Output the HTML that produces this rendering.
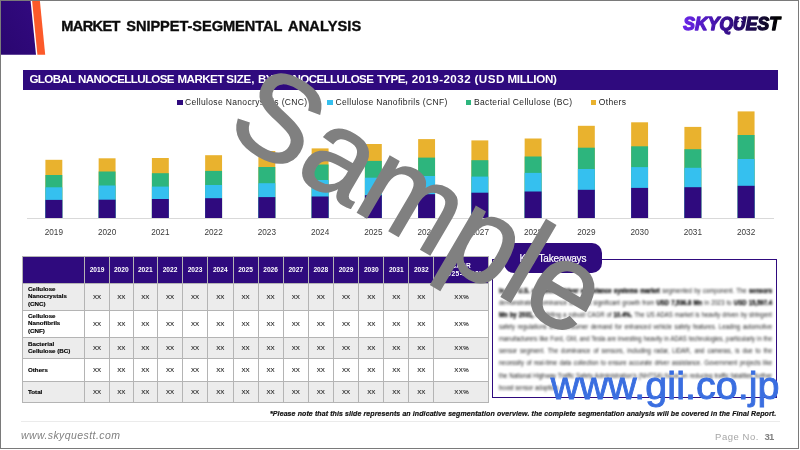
<!DOCTYPE html>
<html><head><meta charset="utf-8"><title>Market Snippet - Segmental Analysis</title>
<style>
html,body{margin:0;padding:0;background:#fff;}
body{width:800px;height:450px;position:relative;overflow:hidden;font-family:"Liberation Sans",sans-serif;}
#frame{position:absolute;left:0;top:0;width:797px;height:447px;border:1px solid #7a7a7a;box-sizing:content-box;}
.abs{position:absolute;}
#title{position:absolute;left:0;top:15.7px;-webkit-text-stroke:0.35px #0c0c0c;font-weight:bold;font-size:14.6px;line-height:20px;color:#0c0c0c;white-space:nowrap;}
#bar{position:absolute;left:22.5px;top:69.7px;width:755px;height:20.3px;background:#2f0a7e;}
.bw{position:absolute;top:0;}
#bartxt{position:absolute;left:0;top:68.9px;font-weight:bold;font-size:11.6px;line-height:20px;color:#fff;white-space:nowrap;}
.lg{position:absolute;top:97px;letter-spacing:0.34px;font-size:8.5px;line-height:11px;color:#1e1e1e;white-space:nowrap;}
.lm{position:absolute;top:100px;width:5.2px;height:5.2px;}
.yl{position:absolute;top:226.5px;width:40px;text-align:center;font-size:8.2px;line-height:11px;color:#3a3a3a;}
#axis{position:absolute;left:26.5px;top:218px;width:747px;height:1px;background:#d9d9d9;}
.th{position:absolute;top:256px;height:27px;line-height:28.6px;text-align:center;color:#fff;font-weight:bold;font-size:6.6px;}
.tr{position:absolute;left:22.5px;width:466px;}
.td{position:absolute;top:-0.2px;text-align:center;font-size:6.1px;color:#222;-webkit-text-stroke:0.12px #222;}
.cg{letter-spacing:0.5px;padding-left:1.3px;box-sizing:border-box;}
.rl{position:absolute;left:5.5px;top:-0.6px;height:100%;display:flex;align-items:center;font-weight:bold;font-size:6.2px;line-height:7.2px;color:#000;-webkit-text-stroke:0.15px #000;}
.vl{position:absolute;top:255.5px;width:1px;height:147.5px;background:#b4b4b4;}
.hl{position:absolute;left:22px;width:467px;height:1px;background:#b4b4b4;}
#ktbox{position:absolute;left:491.8px;top:258.5px;width:285.6px;height:139.2px;border:1.8px solid #2f0a7e;box-sizing:border-box;}
#ktpill{position:absolute;left:504px;top:243px;width:98px;height:29.5px;border-radius:10px;background:#2f0a7e;}
#kttxt{position:absolute;left:519.5px;top:244.5px;height:29.5px;line-height:28px;-webkit-text-stroke:0.2px #fff;color:#fff;font-size:10px;letter-spacing:-0.2px;white-space:nowrap;}
#ktp{position:absolute;left:499px;top:285.1px;width:345.6px;transform:scaleX(0.79);transform-origin:0 0;font-size:7.6px;line-height:12.07px;color:#1c1c1c;text-align:justify;filter:blur(1.25px);}
#foot{position:absolute;left:270px;top:408.6px;-webkit-text-stroke:0.2px #111;font-weight:bold;font-style:italic;font-size:7px;letter-spacing:0.1px;line-height:10px;color:#111;white-space:nowrap;}
#fline{position:absolute;left:20.5px;top:421px;width:759px;height:1px;background:#ebebeb;}
#url{position:absolute;left:21px;top:428px;font-style:italic;font-size:10.5px;line-height:14px;color:#808080;white-space:nowrap;letter-spacing:0.42px;}
#pg{position:absolute;left:715px;top:430.1px;font-size:9.5px;line-height:14px;color:#a6a6a6;white-space:nowrap;letter-spacing:0.55px;}
#pg b{color:#7f7f7f;position:absolute;left:49.5px;top:0;letter-spacing:-0.8px;}
#wm{position:absolute;left:420.7px;top:200.3px;width:0;height:0;}
#wm span{position:absolute;left:-300px;top:-100px;width:600px;height:200px;line-height:200px;text-align:center;font-size:120.1px;color:#808080;-webkit-text-stroke:1.6px #808080;transform:rotate(30.3deg) scaleY(1.02);white-space:nowrap;}
#gii{position:absolute;left:550.8px;top:362.4px;font-size:39.6px;line-height:46px;color:#3a6ee0;white-space:nowrap;-webkit-text-stroke:0.9px #3a6ee0;}
#ktp b{-webkit-text-stroke:0.25px #000;color:#000;}
</style></head><body>
<div id="frame"></div>
<svg class="abs" style="left:0;top:0" width="60" height="60" viewBox="0 0 60 60">
<defs><linearGradient id="pg1" x1="0" y1="1" x2="1" y2="0"><stop offset="0" stop-color="#2a0670"/><stop offset="1" stop-color="#320a80"/></linearGradient></defs>
<polygon points="1,1 30.6,1 36,54.8 1,54.8" fill="url(#pg1)"/>
<polygon points="32.1,1 39.9,1 45.2,54.8 37.4,54.8" fill="#fc5a2a"/>
</svg>
<div id="title"><span class="bw" style="left:61.25px;letter-spacing:-0.637px">MARKET</span> <span class="bw" style="left:126.25px;letter-spacing:-0.050px">SNIPPET-SEGMENTAL</span> <span class="bw" style="left:288.00px;letter-spacing:0.114px">ANALYSIS</span></div>
<svg class="abs" style="left:670px;top:6px" width="125" height="36" viewBox="0 0 125 36">
<defs><linearGradient id="lgd" gradientUnits="userSpaceOnUse" x1="12" y1="0" x2="112" y2="0"><stop offset="0" stop-color="#6a25ea"/><stop offset="0.3" stop-color="#4a16b4"/><stop offset="0.55" stop-color="#2a0a72"/><stop offset="0.8" stop-color="#140a35"/><stop offset="0.95" stop-color="#000"/></linearGradient></defs>
<text x="13.3" y="24.25" letter-spacing="0.05" font-family="Liberation Sans, sans-serif" font-size="17.5" font-weight="bold" font-style="italic" fill="url(#lgd)" stroke="url(#lgd)" stroke-width="1.35" stroke-linejoin="round">SKYQUEST</text>
<polygon points="67.6,11.3 74.4,11.3 73.4,16.2 66.6,16.2" fill="#2a0a70"/>
<polygon points="70.4,11.5 73,14.7 71.2,14.7 70.4,19 68.2,19 69,14.7 67.2,14.7" fill="#fff"/>
</svg>
<div id="bar"></div>
<div id="bartxt"><span class="bw" style="left:29.40px;letter-spacing:-0.571px">GLOBAL</span> <span class="bw" style="left:78.10px;letter-spacing:-0.662px">NANOCELLULOSE</span> <span class="bw" style="left:177.50px;letter-spacing:-0.539px">MARKET</span> <span class="bw" style="left:226.20px;letter-spacing:-0.200px">SIZE,</span> <span class="bw" style="left:258.10px;letter-spacing:-0.809px">BY</span> <span class="bw" style="left:277.00px;letter-spacing:-0.620px">NANOCELLULOSE</span> <span class="bw" style="left:376.90px;letter-spacing:-0.604px">TYPE,</span> <span class="bw" style="left:411.70px;letter-spacing:0.431px">2019-2032</span> <span class="bw" style="left:474.40px;letter-spacing:0.552px">(USD</span> <span class="bw" style="left:507.40px;letter-spacing:-0.288px">MILLION)</span></div>
<div class="lm" style="left:177.4px;background:#2f0a7e"></div><div class="lg" style="left:185px">Cellulose Nanocrystals (CNC)</div>
<div class="lm" style="left:327.4px;background:#35c0ef"></div><div class="lg" style="left:335.5px">Cellulose Nanofibrils (CNF)</div>
<div class="lm" style="left:465.5px;background:#2db57d"></div><div class="lg" style="left:474px">Bacterial Cellulose (BC)</div>
<div class="lm" style="left:591.3px;background:#e9b22e"></div><div class="lg" style="left:598.8px">Others</div>
<svg class="abs" style="left:0;top:0" width="800" height="225" viewBox="0 0 800 225" shape-rendering="auto">
<rect x="45.40" y="159.8" width="16.9" height="58.20" fill="#e9b22e"/>
<rect x="45.40" y="175" width="16.9" height="43.00" fill="#2db57d"/>
<rect x="45.40" y="187.3" width="16.9" height="30.70" fill="#35c0ef"/>
<rect x="45.40" y="199.9" width="16.9" height="18.10" fill="#2f0a7e"/>
<rect x="98.65" y="158.3" width="16.9" height="59.70" fill="#e9b22e"/>
<rect x="98.65" y="171.5" width="16.9" height="46.50" fill="#2db57d"/>
<rect x="98.65" y="185.5" width="16.9" height="32.50" fill="#35c0ef"/>
<rect x="98.65" y="199.7" width="16.9" height="18.30" fill="#2f0a7e"/>
<rect x="151.90" y="158" width="16.9" height="60.00" fill="#e9b22e"/>
<rect x="151.90" y="173.2" width="16.9" height="44.80" fill="#2db57d"/>
<rect x="151.90" y="186.6" width="16.9" height="31.40" fill="#35c0ef"/>
<rect x="151.90" y="199" width="16.9" height="19.00" fill="#2f0a7e"/>
<rect x="205.15" y="155.2" width="16.9" height="62.80" fill="#e9b22e"/>
<rect x="205.15" y="170.9" width="16.9" height="47.10" fill="#2db57d"/>
<rect x="205.15" y="185" width="16.9" height="33.00" fill="#35c0ef"/>
<rect x="205.15" y="198.2" width="16.9" height="19.80" fill="#2f0a7e"/>
<rect x="258.40" y="151" width="16.9" height="67.00" fill="#e9b22e"/>
<rect x="258.40" y="167" width="16.9" height="51.00" fill="#2db57d"/>
<rect x="258.40" y="183.2" width="16.9" height="34.80" fill="#35c0ef"/>
<rect x="258.40" y="197.1" width="16.9" height="20.90" fill="#2f0a7e"/>
<rect x="311.65" y="148.4" width="16.9" height="69.60" fill="#e9b22e"/>
<rect x="311.65" y="164.5" width="16.9" height="53.50" fill="#2db57d"/>
<rect x="311.65" y="180" width="16.9" height="38.00" fill="#35c0ef"/>
<rect x="311.65" y="196.5" width="16.9" height="21.50" fill="#2f0a7e"/>
<rect x="364.90" y="144" width="16.9" height="74.00" fill="#e9b22e"/>
<rect x="364.90" y="160.9" width="16.9" height="57.10" fill="#2db57d"/>
<rect x="364.90" y="177.7" width="16.9" height="40.30" fill="#35c0ef"/>
<rect x="364.90" y="195.2" width="16.9" height="22.80" fill="#2f0a7e"/>
<rect x="418.15" y="139.1" width="16.9" height="78.90" fill="#e9b22e"/>
<rect x="418.15" y="157.6" width="16.9" height="60.40" fill="#2db57d"/>
<rect x="418.15" y="176" width="16.9" height="42.00" fill="#35c0ef"/>
<rect x="418.15" y="194.2" width="16.9" height="23.80" fill="#2f0a7e"/>
<rect x="471.40" y="140.4" width="16.9" height="77.60" fill="#e9b22e"/>
<rect x="471.40" y="160.2" width="16.9" height="57.80" fill="#2db57d"/>
<rect x="471.40" y="176.6" width="16.9" height="41.40" fill="#35c0ef"/>
<rect x="471.40" y="192.7" width="16.9" height="25.30" fill="#2f0a7e"/>
<rect x="524.65" y="138.5" width="16.9" height="79.50" fill="#e9b22e"/>
<rect x="524.65" y="156.5" width="16.9" height="61.50" fill="#2db57d"/>
<rect x="524.65" y="172.9" width="16.9" height="45.10" fill="#35c0ef"/>
<rect x="524.65" y="191.5" width="16.9" height="26.50" fill="#2f0a7e"/>
<rect x="577.90" y="125.8" width="16.9" height="92.20" fill="#e9b22e"/>
<rect x="577.90" y="147.7" width="16.9" height="70.30" fill="#2db57d"/>
<rect x="577.90" y="169" width="16.9" height="49.00" fill="#35c0ef"/>
<rect x="577.90" y="189.8" width="16.9" height="28.20" fill="#2f0a7e"/>
<rect x="631.15" y="122.3" width="16.9" height="95.70" fill="#e9b22e"/>
<rect x="631.15" y="146.3" width="16.9" height="71.70" fill="#2db57d"/>
<rect x="631.15" y="167.1" width="16.9" height="50.90" fill="#35c0ef"/>
<rect x="631.15" y="187.9" width="16.9" height="30.10" fill="#2f0a7e"/>
<rect x="684.40" y="126.9" width="16.9" height="91.10" fill="#e9b22e"/>
<rect x="684.40" y="149.2" width="16.9" height="68.80" fill="#2db57d"/>
<rect x="684.40" y="167.8" width="16.9" height="50.20" fill="#35c0ef"/>
<rect x="684.40" y="187.2" width="16.9" height="30.80" fill="#2f0a7e"/>
<rect x="737.65" y="111.4" width="16.9" height="106.60" fill="#e9b22e"/>
<rect x="737.65" y="135" width="16.9" height="83.00" fill="#2db57d"/>
<rect x="737.65" y="159" width="16.9" height="59.00" fill="#35c0ef"/>
<rect x="737.65" y="185.8" width="16.9" height="32.20" fill="#2f0a7e"/>
</svg>
<div id="axis"></div>
<div class="yl" style="left:33.85px">2019</div>
<div class="yl" style="left:87.10px">2020</div>
<div class="yl" style="left:140.35px">2021</div>
<div class="yl" style="left:193.60px">2022</div>
<div class="yl" style="left:246.85px">2023</div>
<div class="yl" style="left:300.10px">2024</div>
<div class="yl" style="left:353.35px">2025</div>
<div class="yl" style="left:406.60px">2026</div>
<div class="yl" style="left:459.85px">2027</div>
<div class="yl" style="left:513.10px">2028</div>
<div class="yl" style="left:566.35px">2029</div>
<div class="yl" style="left:619.60px">2030</div>
<div class="yl" style="left:672.85px">2031</div>
<div class="yl" style="left:726.10px">2032</div>
<div class="abs" style="left:22.5px;top:256px;width:466px;height:27px;background:#2f0a7e"></div>
<div class="th" style="left:84.50px;width:25.00px">2019</div><div class="th" style="left:109.50px;width:23.50px">2020</div><div class="th" style="left:133.00px;width:24.50px">2021</div><div class="th" style="left:157.50px;width:25.00px">2022</div><div class="th" style="left:182.50px;width:25.00px">2023</div><div class="th" style="left:207.50px;width:25.50px">2024</div><div class="th" style="left:233.00px;width:25.00px">2025</div><div class="th" style="left:258.00px;width:25.25px">2026</div><div class="th" style="left:283.25px;width:25.00px">2027</div><div class="th" style="left:308.25px;width:25.00px">2028</div><div class="th" style="left:333.25px;width:25.50px">2029</div><div class="th" style="left:358.75px;width:25.00px">2030</div><div class="th" style="left:383.75px;width:25.00px">2031</div><div class="th" style="left:408.75px;width:25.00px">2032</div>
<div class="th" style="left:433.75px;width:54.75px;line-height:8.2px;top:262.2px;height:auto">CAGR<br><span style="letter-spacing:0.5px">(2025-2032)</span></div>
<div class="tr" style="top:283px;height:27px;background:#ececec"><div class="rl"><span>Cellulose<br>Nanocrystals<br>(CNC)</span></div><div class="td" style="left:62.00px;width:25.00px;line-height:27px">XX</div><div class="td" style="left:87.00px;width:23.50px;line-height:27px">XX</div><div class="td" style="left:110.50px;width:24.50px;line-height:27px">XX</div><div class="td" style="left:135.00px;width:25.00px;line-height:27px">XX</div><div class="td" style="left:160.00px;width:25.00px;line-height:27px">XX</div><div class="td" style="left:185.00px;width:25.50px;line-height:27px">XX</div><div class="td" style="left:210.50px;width:25.00px;line-height:27px">XX</div><div class="td" style="left:235.50px;width:25.25px;line-height:27px">XX</div><div class="td" style="left:260.75px;width:25.00px;line-height:27px">XX</div><div class="td" style="left:285.75px;width:25.00px;line-height:27px">XX</div><div class="td" style="left:310.75px;width:25.50px;line-height:27px">XX</div><div class="td" style="left:336.25px;width:25.00px;line-height:27px">XX</div><div class="td" style="left:361.25px;width:25.00px;line-height:27px">XX</div><div class="td" style="left:386.25px;width:25.00px;line-height:27px">XX</div><div class="td cg" style="left:411.25px;width:54.75px;line-height:27px">XX%</div></div><div class="tr" style="top:310px;height:27.19999999999999px;background:#ffffff"><div class="rl"><span>Cellulose<br>Nanofibrils<br>(CNF)</span></div><div class="td" style="left:62.00px;width:25.00px;line-height:27.19999999999999px">XX</div><div class="td" style="left:87.00px;width:23.50px;line-height:27.19999999999999px">XX</div><div class="td" style="left:110.50px;width:24.50px;line-height:27.19999999999999px">XX</div><div class="td" style="left:135.00px;width:25.00px;line-height:27.19999999999999px">XX</div><div class="td" style="left:160.00px;width:25.00px;line-height:27.19999999999999px">XX</div><div class="td" style="left:185.00px;width:25.50px;line-height:27.19999999999999px">XX</div><div class="td" style="left:210.50px;width:25.00px;line-height:27.19999999999999px">XX</div><div class="td" style="left:235.50px;width:25.25px;line-height:27.19999999999999px">XX</div><div class="td" style="left:260.75px;width:25.00px;line-height:27.19999999999999px">XX</div><div class="td" style="left:285.75px;width:25.00px;line-height:27.19999999999999px">XX</div><div class="td" style="left:310.75px;width:25.50px;line-height:27.19999999999999px">XX</div><div class="td" style="left:336.25px;width:25.00px;line-height:27.19999999999999px">XX</div><div class="td" style="left:361.25px;width:25.00px;line-height:27.19999999999999px">XX</div><div class="td" style="left:386.25px;width:25.00px;line-height:27.19999999999999px">XX</div><div class="td cg" style="left:411.25px;width:54.75px;line-height:27.19999999999999px">XX%</div></div><div class="tr" style="top:337.2px;height:21.600000000000023px;background:#ececec"><div class="rl"><span>Bacterial<br>Cellulose (BC)</span></div><div class="td" style="left:62.00px;width:25.00px;line-height:21.600000000000023px">XX</div><div class="td" style="left:87.00px;width:23.50px;line-height:21.600000000000023px">XX</div><div class="td" style="left:110.50px;width:24.50px;line-height:21.600000000000023px">XX</div><div class="td" style="left:135.00px;width:25.00px;line-height:21.600000000000023px">XX</div><div class="td" style="left:160.00px;width:25.00px;line-height:21.600000000000023px">XX</div><div class="td" style="left:185.00px;width:25.50px;line-height:21.600000000000023px">XX</div><div class="td" style="left:210.50px;width:25.00px;line-height:21.600000000000023px">XX</div><div class="td" style="left:235.50px;width:25.25px;line-height:21.600000000000023px">XX</div><div class="td" style="left:260.75px;width:25.00px;line-height:21.600000000000023px">XX</div><div class="td" style="left:285.75px;width:25.00px;line-height:21.600000000000023px">XX</div><div class="td" style="left:310.75px;width:25.50px;line-height:21.600000000000023px">XX</div><div class="td" style="left:336.25px;width:25.00px;line-height:21.600000000000023px">XX</div><div class="td" style="left:361.25px;width:25.00px;line-height:21.600000000000023px">XX</div><div class="td" style="left:386.25px;width:25.00px;line-height:21.600000000000023px">XX</div><div class="td cg" style="left:411.25px;width:54.75px;line-height:21.600000000000023px">XX%</div></div><div class="tr" style="top:358.8px;height:22.30000000000001px;background:#ffffff"><div class="rl"><span>Others</span></div><div class="td" style="left:62.00px;width:25.00px;line-height:22.30000000000001px">XX</div><div class="td" style="left:87.00px;width:23.50px;line-height:22.30000000000001px">XX</div><div class="td" style="left:110.50px;width:24.50px;line-height:22.30000000000001px">XX</div><div class="td" style="left:135.00px;width:25.00px;line-height:22.30000000000001px">XX</div><div class="td" style="left:160.00px;width:25.00px;line-height:22.30000000000001px">XX</div><div class="td" style="left:185.00px;width:25.50px;line-height:22.30000000000001px">XX</div><div class="td" style="left:210.50px;width:25.00px;line-height:22.30000000000001px">XX</div><div class="td" style="left:235.50px;width:25.25px;line-height:22.30000000000001px">XX</div><div class="td" style="left:260.75px;width:25.00px;line-height:22.30000000000001px">XX</div><div class="td" style="left:285.75px;width:25.00px;line-height:22.30000000000001px">XX</div><div class="td" style="left:310.75px;width:25.50px;line-height:22.30000000000001px">XX</div><div class="td" style="left:336.25px;width:25.00px;line-height:22.30000000000001px">XX</div><div class="td" style="left:361.25px;width:25.00px;line-height:22.30000000000001px">XX</div><div class="td" style="left:386.25px;width:25.00px;line-height:22.30000000000001px">XX</div><div class="td cg" style="left:411.25px;width:54.75px;line-height:22.30000000000001px">XX%</div></div><div class="tr" style="top:381.1px;height:21.299999999999955px;background:#ececec"><div class="rl"><span>Total</span></div><div class="td" style="left:62.00px;width:25.00px;line-height:21.299999999999955px">XX</div><div class="td" style="left:87.00px;width:23.50px;line-height:21.299999999999955px">XX</div><div class="td" style="left:110.50px;width:24.50px;line-height:21.299999999999955px">XX</div><div class="td" style="left:135.00px;width:25.00px;line-height:21.299999999999955px">XX</div><div class="td" style="left:160.00px;width:25.00px;line-height:21.299999999999955px">XX</div><div class="td" style="left:185.00px;width:25.50px;line-height:21.299999999999955px">XX</div><div class="td" style="left:210.50px;width:25.00px;line-height:21.299999999999955px">XX</div><div class="td" style="left:235.50px;width:25.25px;line-height:21.299999999999955px">XX</div><div class="td" style="left:260.75px;width:25.00px;line-height:21.299999999999955px">XX</div><div class="td" style="left:285.75px;width:25.00px;line-height:21.299999999999955px">XX</div><div class="td" style="left:310.75px;width:25.50px;line-height:21.299999999999955px">XX</div><div class="td" style="left:336.25px;width:25.00px;line-height:21.299999999999955px">XX</div><div class="td" style="left:361.25px;width:25.00px;line-height:21.299999999999955px">XX</div><div class="td" style="left:386.25px;width:25.00px;line-height:21.299999999999955px">XX</div><div class="td cg" style="left:411.25px;width:54.75px;line-height:21.299999999999955px">XX%</div></div>
<div class="vl" style="left:22.20px"></div><div class="vl" style="left:84.20px"></div><div class="vl" style="left:109.20px"></div><div class="vl" style="left:132.70px"></div><div class="vl" style="left:157.20px"></div><div class="vl" style="left:182.20px"></div><div class="vl" style="left:207.20px"></div><div class="vl" style="left:232.70px"></div><div class="vl" style="left:257.70px"></div><div class="vl" style="left:282.95px"></div><div class="vl" style="left:307.95px"></div><div class="vl" style="left:332.95px"></div><div class="vl" style="left:358.45px"></div><div class="vl" style="left:383.45px"></div><div class="vl" style="left:408.45px"></div><div class="vl" style="left:433.45px"></div><div class="vl" style="left:488.20px"></div><div class="hl" style="top:255.50px"></div><div class="hl" style="top:282.50px"></div><div class="hl" style="top:309.50px"></div><div class="hl" style="top:336.70px"></div><div class="hl" style="top:358.30px"></div><div class="hl" style="top:380.60px"></div><div class="hl" style="top:401.90px"></div>
<div id="ktbox"></div>
<div id="ktpill"></div>
<div id="kttxt">Key Takeaways</div>
<div id="ktp"><b>In the U.S. advanced driver assistance systems market</b> segmented by component. The <b>sensors</b> demonstrated dominance and has significant growth from <b>USD 7,536.8 Mn</b> in 2023 to <b>USD 15,597.4 Mn by 2031,</b> exhibiting a robust CAGR of <b>10.4%.</b> The US ADAS market is heavily driven by stringent safety regulations and consumer demand for enhanced vehicle safety features. Leading automotive manufacturers like Ford, GM, and Tesla are investing heavily in ADAS technologies, particularly in the sensor segment. The dominance of sensors, including radar, LiDAR, and cameras, is due to the necessity of real-time data collection to ensure accurate driver assistance. Government projects like the National Highway Traffic Safety Administration's (NHTSA) focus on reducing traffic fatalities further boost sensor adoption.</div>
<div id="foot">*Please note that this slide represents an indicative segmentation overview. the complete segmentation analysis will be covered in the Final Report.</div>
<div id="fline"></div>
<div id="url">www.skyquestt.com</div>
<div id="pg">Page No. <b>31</b></div>
<div id="wm"><span>Sample</span></div>
<div id="gii">www.gii.co.jp</div>
</body></html>
